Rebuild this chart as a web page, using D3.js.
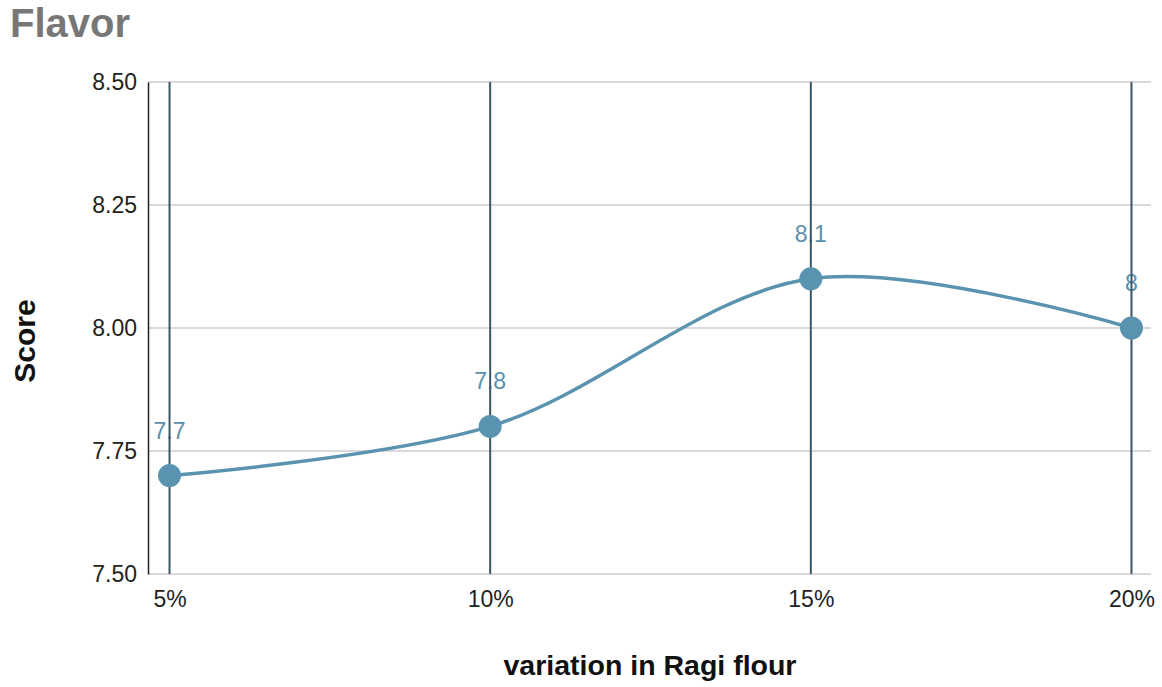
<!DOCTYPE html>
<html>
<head>
<meta charset="utf-8">
<script src="https://cdn.jsdelivr.net/npm/d3@7"></script>
<style>
  html, body { margin: 0; padding: 0; background: #fff; }
  svg { display: block; font-family: "Liberation Sans", Arial, sans-serif; }
</style>
</head>
<body>
<svg id="chart" width="1162" height="687"></svg>
<script>
// Flavor scores by Ragi flour proportion
const categories = ["5%", "10%", "15%", "20%"];
const scores = [7.7, 7.8, 8.1, 8.0];
const yTicks = [7.5, 7.75, 8.0, 8.25, 8.5];

const svg = d3.select("#chart");
const plot = { left: 148, right: 1151, top: 82, bottom: 574 };
const font = "'Liberation Sans', Arial, sans-serif";

const x = d3.scalePoint()
  .domain(categories)
  .range([plot.left + 1, plot.right + 1])
  .padding(0.064);

const y = d3.scaleLinear()
  .domain([7.5, 8.5])
  .range([plot.bottom, plot.top]);

// Title
svg.append("text")
  .attr("x", 10).attr("y", 37)
  .attr("font-size", 40).attr("font-weight", "bold")
  .attr("fill", "#777")
  .text("Flavor");

// Horizontal gridlines
svg.append("g")
  .selectAll("line")
  .data(yTicks)
  .join("line")
  .attr("x1", plot.left).attr("x2", plot.right)
  .attr("y1", d => y(d)).attr("y2", d => y(d))
  .attr("stroke", "#cccccc").attr("stroke-width", 1.5);

// Y axis
const yAxis = svg.append("g")
  .attr("transform", `translate(${plot.left},0)`)
  .call(d3.axisLeft(y).tickValues(yTicks).tickFormat(d3.format(".2f")).tickSize(0).tickPadding(11));
yAxis.select(".domain").attr("stroke", "#222").attr("stroke-width", 1.5);
yAxis.selectAll("text").attr("font-size", 23).attr("fill", "#222").attr("font-family", font);

// X axis labels
const xAxis = svg.append("g")
  .attr("transform", `translate(0,${plot.bottom})`)
  .call(d3.axisBottom(x).tickSize(0).tickPadding(17));
xAxis.select(".domain").remove();
xAxis.selectAll("text").attr("font-size", 23).attr("fill", "#222").attr("font-family", font);

// Axis titles
svg.append("text")
  .attr("x", 650).attr("y", 675)
  .attr("text-anchor", "middle")
  .attr("font-size", 28.5).attr("font-weight", "bold").attr("fill", "#111")
  .text("variation in Ragi flour");

svg.append("text")
  .attr("transform", `translate(35,${(plot.top + plot.bottom) / 2 + 13}) rotate(-90)`)
  .attr("text-anchor", "middle")
  .attr("font-size", 30).attr("font-weight", "bold").attr("fill", "#111")
  .text("Score");

const data = categories.map((c, i) => ({ c, v: scores[i] }));

// Value labels
svg.append("g")
  .selectAll("text")
  .data(data)
  .join("text")
  .attr("x", d => x(d.c)).attr("y", d => y(d.v) - 37)
  .attr("text-anchor", "middle")
  .attr("font-size", 23).attr("fill", "#5b8fab").attr("font-family", font)
  .text(d => d.v);

// Vertical category lines
svg.append("g")
  .selectAll("line")
  .data(categories)
  .join("line")
  .attr("x1", d => x(d)).attr("x2", d => x(d))
  .attr("y1", plot.top).attr("y2", plot.bottom)
  .attr("stroke", "#3a5566").attr("stroke-width", 2);

// Smooth line
const line = d3.line()
  .x(d => x(d.c)).y(d => y(d.v))
  .curve(d3.curveCatmullRom.alpha(0.5));

svg.append("path")
  .datum(data)
  .attr("d", line)
  .attr("fill", "none")
  .attr("stroke", "#5a93b0").attr("stroke-width", 3.5);

// Points
svg.append("g")
  .selectAll("circle")
  .data(data)
  .join("circle")
  .attr("cx", d => x(d.c)).attr("cy", d => y(d.v))
  .attr("r", 11.5)
  .attr("fill", "#5a93b0");
</script>
</body>
</html>
